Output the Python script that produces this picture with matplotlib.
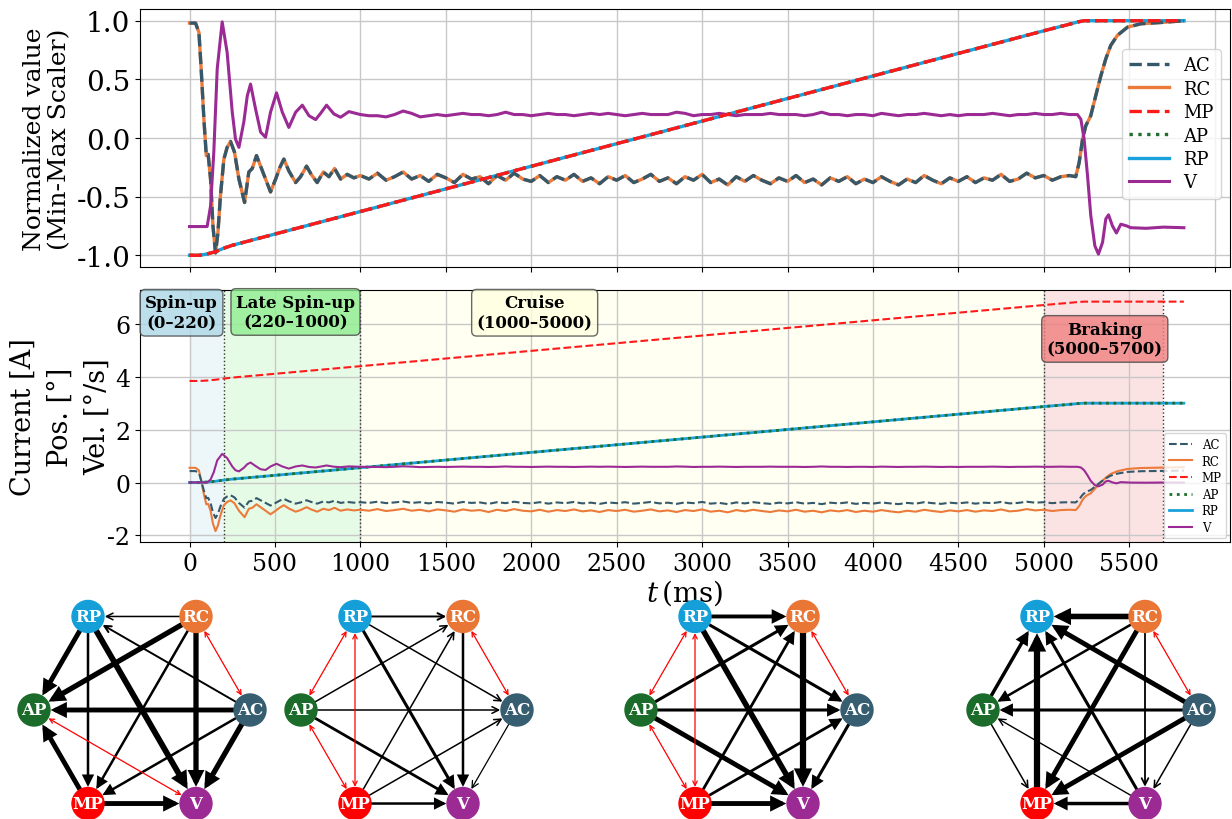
import numpy as np
import matplotlib
matplotlib.use("Agg")
import matplotlib.pyplot as plt
from matplotlib.patches import Circle, FancyArrowPatch

plt.rcParams['font.family'] = 'serif'
plt.rcParams['font.serif'] = ['DejaVu Serif']
plt.rcParams['mathtext.fontset'] = 'dejavuserif'
plt.rcParams['axes.unicode_minus'] = False

# ---------------- signals (normalised values) ----------------
# currents: AC and RC collapse onto the same curve once min-max scaled
t_cur_early = [0, 35, 55, 68, 84, 98, 109, 123, 137, 152, 166, 181, 201, 220, 240, 263,
               289, 322, 347, 367, 392, 416, 445, 474, 504, 529, 552, 581, 621, 650, 685,
               712, 747, 783, 816, 849, 884, 923, 962]
cur_early = [0.98, 0.98, 0.90, 0.59, 0.16, -0.15, -0.14, -0.35, -0.75, -0.98, -0.81, -0.49,
             -0.18, -0.08, -0.03, -0.12, -0.35, -0.55, -0.29, -0.26, -0.15, -0.24, -0.35,
             -0.46, -0.35, -0.25, -0.18, -0.28, -0.38, -0.33, -0.24, -0.31, -0.38, -0.29,
             -0.33, -0.26, -0.35, -0.31, -0.34]
t_cruise = np.arange(1000, 5151, 50)
cur_cruise = [-0.32, -0.35, -0.30, -0.36, -0.33, -0.29, -0.35, -0.32, -0.37, -0.31, -0.34, -0.38,
              -0.31, -0.35, -0.33, -0.39, -0.32, -0.36, -0.30, -0.35, -0.37, -0.32, -0.38, -0.33,
              -0.36, -0.31, -0.37, -0.34, -0.39, -0.33, -0.36, -0.32, -0.38, -0.35, -0.31, -0.37,
              -0.34, -0.39, -0.33, -0.36, -0.31, -0.38, -0.35, -0.40, -0.33, -0.37, -0.32, -0.36,
              -0.39, -0.34, -0.37, -0.32, -0.38, -0.35, -0.40, -0.34, -0.37, -0.33, -0.39, -0.35,
              -0.38, -0.33, -0.37, -0.40, -0.35, -0.38, -0.32, -0.36, -0.39, -0.34, -0.37, -0.33,
              -0.38, -0.34, -0.36, -0.31, -0.37, -0.35, -0.30, -0.34, -0.32, -0.36, -0.33, -0.32]
t_cur_brake = [5187, 5207, 5227, 5246, 5275, 5304, 5334, 5363, 5392, 5431, 5490, 5568, 5685, 5820]
cur_brake = [-0.33, -0.21, -0.01, 0.105, 0.19, 0.36, 0.53, 0.675, 0.79, 0.875, 0.945, 0.974,
             0.985, 1.0]

# positions: MP, AP and RP ramps (identical once normalised)
t_pos = [0, 60, 100, 150, 200, 250, 1000, 2000, 3000, 4000, 5000, 5150, 5200, 5236, 5820]
pos_norm = [-1.0, -1.0, -0.99, -0.97, -0.94, -0.915, -0.627, -0.241, 0.144, 0.529, 0.914,
            0.97, 0.99, 1.0, 1.0]

# velocity
t_v_early = [0, 103, 123, 142, 162, 191, 220, 250, 269, 289, 318, 338, 357, 386, 416, 445,
             474, 509, 543, 581, 621, 660, 699, 738, 767, 802, 845, 884, 933]
v_early = [-0.755, -0.755, -0.58, -0.12, 0.59, 0.99, 0.73, 0.22, -0.01, -0.08, 0.14, 0.36,
           0.46, 0.25, 0.05, 0.006, 0.22, 0.385, 0.22, 0.09, 0.22, 0.28, 0.19, 0.157, 0.21,
           0.28, 0.205, 0.177, 0.225]
v_cruise = [0.20, 0.19, 0.19, 0.18, 0.20, 0.23, 0.21, 0.18, 0.19, 0.20, 0.19, 0.20,
            0.21, 0.20, 0.20, 0.19, 0.20, 0.22, 0.20, 0.20, 0.19, 0.20, 0.21, 0.20,
            0.20, 0.19, 0.20, 0.21, 0.20, 0.21, 0.20, 0.19, 0.20, 0.21, 0.20, 0.20,
            0.20, 0.22, 0.21, 0.19, 0.20, 0.20, 0.21, 0.20, 0.19, 0.20, 0.20, 0.20,
            0.21, 0.20, 0.20, 0.20, 0.19, 0.20, 0.22, 0.20, 0.20, 0.19, 0.20, 0.20,
            0.19, 0.21, 0.20, 0.19, 0.20, 0.20, 0.21, 0.20, 0.19, 0.20, 0.19, 0.20,
            0.20, 0.20, 0.21, 0.20, 0.19, 0.20, 0.20, 0.21, 0.20, 0.20, 0.21, 0.20]
t_v_brake = [5197, 5217, 5236, 5256, 5275, 5299, 5320, 5344, 5363, 5379, 5402, 5425, 5451,
             5486, 5509, 5600, 5700, 5820]
v_brake = [0.20, 0.16, -0.008, -0.32, -0.66, -0.92, -0.99, -0.89, -0.69, -0.655, -0.75, -0.81,
           -0.735, -0.75, -0.765, -0.77, -0.76, -0.765]

# raw min / max of each signal
raw_range = {"AC": (-1.36, 0.45), "RC": (-1.86, 0.58), "MP": (3.84, 6.84),
             "AP": (0.0, 3.0), "RP": (0.0, 3.0), "V": (-0.15, 1.09)}

# phases
phase_edges = [0, 200, 1000, 5000, 5700]
phase_names = ["Spin-up\n(0–220)", "Late Spin-up\n(220–1000)", "Cruise\n(1000–5000)",
               "Braking\n(5000–5700)"]
phase_colors = ["lightblue", "lightgreen", "lightyellow", "lightcoral"]

# ---------------- causal graphs ----------------
nodes = ["RP", "RC", "AC", "V", "MP", "AP"]
node_colors = {"RP": "#159fd9", "RC": "#ea7636", "AP": "#1b6b2a", "AC": "#365d70",
               "MP": "#ff0000", "V": "#9b2a94"}
graph_edges = [
    [("RC", "RP", 1.1), ("RP", "AP", 3.5), ("RP", "MP", 1.8), ("RP", "V", 4.2),
     ("RC", "AP", 3.8), ("RC", "MP", 1.8), ("RC", "V", 3.8), ("AC", "RP", 1.4),
     ("AC", "AP", 3.5), ("AC", "MP", 1.8), ("AC", "V", 3.8), ("MP", "AP", 3.5),
     ("MP", "V", 3.5)],
    [("RP", "RC", 1.4), ("RP", "V", 2.2), ("RP", "AC", 1.1), ("RC", "V", 1.8),
     ("AP", "RC", 1.1), ("AP", "AC", 1.1), ("AP", "V", 2.0), ("MP", "RC", 1.1),
     ("MP", "AC", 1.1), ("MP", "V", 1.8), ("AC", "V", 0.9)],
    [("RP", "RC", 2.8), ("RP", "V", 4.0), ("RP", "AC", 2.2), ("RC", "V", 4.5),
     ("AP", "RC", 2.2), ("AP", "AC", 2.2), ("AP", "V", 3.5), ("MP", "RC", 2.0),
     ("MP", "AC", 2.0), ("MP", "V", 3.5), ("AC", "V", 2.2)],
    [("RC", "RP", 4.0), ("RC", "AP", 1.8), ("RC", "MP", 3.5), ("RC", "V", 1.3),
     ("AP", "RP", 2.5), ("AC", "RP", 3.5), ("AC", "AP", 2.2), ("AC", "MP", 3.5),
     ("AC", "V", 1.1), ("V", "RP", 2.2), ("V", "AP", 1.0), ("V", "MP", 2.5),
     ("MP", "RP", 4.5), ("AP", "MP", 1.1)],
]
graph_bidir = [
    [("RC", "AC"), ("AP", "V")],
    [("RP", "AP"), ("RP", "MP"), ("RC", "AC"), ("AP", "MP")],
    [("RP", "AP"), ("RP", "MP"), ("RC", "AC"), ("AP", "MP")],
    [("RC", "AC")],
]

# ---------------- assemble series ----------------
t_cur = np.concatenate([t_cur_early, t_cruise, t_cur_brake])
ac_norm = np.concatenate([cur_early, cur_cruise, cur_brake])
rc_norm = ac_norm.copy()
t_v = np.concatenate([t_v_early, t_cruise, t_v_brake])
v_norm = np.concatenate([v_early, v_cruise, v_brake])
t_pos = np.array(t_pos)
pos_norm = np.array(pos_norm)

norm = {"AC": (t_cur, ac_norm), "RC": (t_cur, rc_norm), "MP": (t_pos, pos_norm),
        "AP": (t_pos, pos_norm), "RP": (t_pos, pos_norm), "V": (t_v, v_norm)}


def to_raw(name):
    lo, hi = raw_range[name]
    t, n = norm[name]
    return t, lo + (n + 1) / 2 * (hi - lo)


W, H = 1232, 820
fig = plt.figure(figsize=(W / 100, H / 100), dpi=100)
ax1 = fig.add_axes([140 / W, 1 - 268 / H, 1090 / W, 258 / H])
ax2 = fig.add_axes([140 / W, 1 - 543 / H, 1090 / W, 252 / H])

top_style = {
    "AC": dict(color="#35596b", ls="--", lw=2.4, zorder=4),
    "RC": dict(color="#ec7a3a", ls="-", lw=2.4, zorder=3),
    "MP": dict(color="#ff1a1a", ls="--", lw=2.4, zorder=5),
    "AP": dict(color="#1f6e2c", ls=":", lw=2.4, zorder=4),
    "RP": dict(color="#1aa0da", ls="-", lw=2.4, zorder=3),
    "V": dict(color="#9b2a94", ls="-", lw=2.2, zorder=4),
}
for name in ["AC", "RC", "MP", "AP", "RP", "V"]:
    t, n = norm[name]
    ax1.plot(t, n, label=name, **top_style[name])

for name in ["AC", "RC", "MP", "AP", "RP", "V"]:
    t, r = to_raw(name)
    st = dict(top_style[name])
    st["lw"] = 2.0 if name in ("AP", "RP") else 1.5
    ax2.plot(t, r, label=name, **st)

for ax in (ax1, ax2):
    ax.set_xlim(-290, 6090)
    ax.grid(True, color="#c8c8c8", lw=1.0)
    ax.set_axisbelow(True)

ax1.set_ylim(-1.1, 1.1)
ax1.set_yticks([-1.0, -0.5, 0.0, 0.5, 1.0])
ax1.set_xticks(np.arange(0, 6001, 500))
ax1.tick_params(axis="x", labelbottom=False)
ax1.tick_params(axis="y", labelsize=20)
ax1.set_ylabel("Normalized value\n(Min-Max Scaler)", fontsize=18, linespacing=1.1)
ax1.legend(loc="center right", bbox_to_anchor=(1.0, 0.555), fontsize=13,
           handlelength=2.2, labelspacing=0.3, framealpha=0.8)

ax2.set_ylim(-2.25, 7.28)
ax2.set_yticks([-2, 0, 2, 4, 6])
ax2.set_xticks(np.arange(0, 5501, 500))
ax2.tick_params(labelsize=17)
ax2.set_ylabel("Current [A]\nPos. [°]\nVel. [°/s]", fontsize=19.5, linespacing=1.5,
               labelpad=-3)
ax2.set_xlabel(r"$t\,$(ms)", fontsize=20, labelpad=2)
ax2.legend(loc="lower right", fontsize=8.5, framealpha=0.8, borderaxespad=0.3,
           labelspacing=0.3)

# phase shading
label_pos = [(-47, 6.42), (620, 6.45), (2020, 6.42), (5357, 5.43)]
for i, name in enumerate(phase_names):
    a, b = phase_edges[i], phase_edges[i + 1]
    alpha = 0.4 if phase_colors[i] == "lightyellow" else 0.22
    ax2.axvspan(a, b, color=phase_colors[i], alpha=alpha, zorder=0, lw=0)
    x, y = label_pos[i]
    ax2.text(x, y, name, ha="center", va="center", fontsize=12, fontweight="bold",
             bbox=dict(boxstyle="round,pad=0.3", fc=phase_colors[i], ec="#444444", alpha=0.8),
             zorder=6)
for x in phase_edges[1:]:
    ax2.axvline(x, color="#333333", ls=":", lw=1.0, zorder=1)

# ---------------- causal graphs ----------------
axn = fig.add_axes([0, 0, 1, 1])
axn.set_xlim(0, W)
axn.set_ylim(H, 0)
axn.axis("off")
axn.patch.set_alpha(0)

centers = [142, 409, 749, 1091]
cy, rad, node_r = 711, 108, 16
angles = {"RP": 120, "RC": 60, "AC": 0, "V": -60, "MP": -120, "AP": 180}

for g, cx in enumerate(centers):
    pos = {k: (cx + rad * np.cos(np.radians(a)), cy - rad * np.sin(np.radians(a)))
           for k, a in angles.items()}
    for a, b, w in graph_edges[g]:
        if w >= 1.8:
            style, ms = "-|>", 15
        else:
            style, ms = "->", 12
        arr = FancyArrowPatch(pos[a], pos[b], arrowstyle=style, mutation_scale=ms,
                              lw=w, color="black", shrinkA=12, shrinkB=12, zorder=2,
                              joinstyle="miter")
        axn.add_patch(arr)
    for a, b in graph_bidir[g]:
        arr = FancyArrowPatch(pos[a], pos[b], arrowstyle="<->", mutation_scale=8,
                              lw=0.9, color="red", shrinkA=12, shrinkB=12, zorder=2)
        axn.add_patch(arr)
    for k in nodes:
        axn.add_patch(Circle(pos[k], node_r, color=node_colors[k], zorder=3))
        axn.text(pos[k][0], pos[k][1], k, color="white", fontsize=12, fontweight="bold",
                 ha="center", va="center", zorder=4)

fig.savefig("out.png", dpi=100)
